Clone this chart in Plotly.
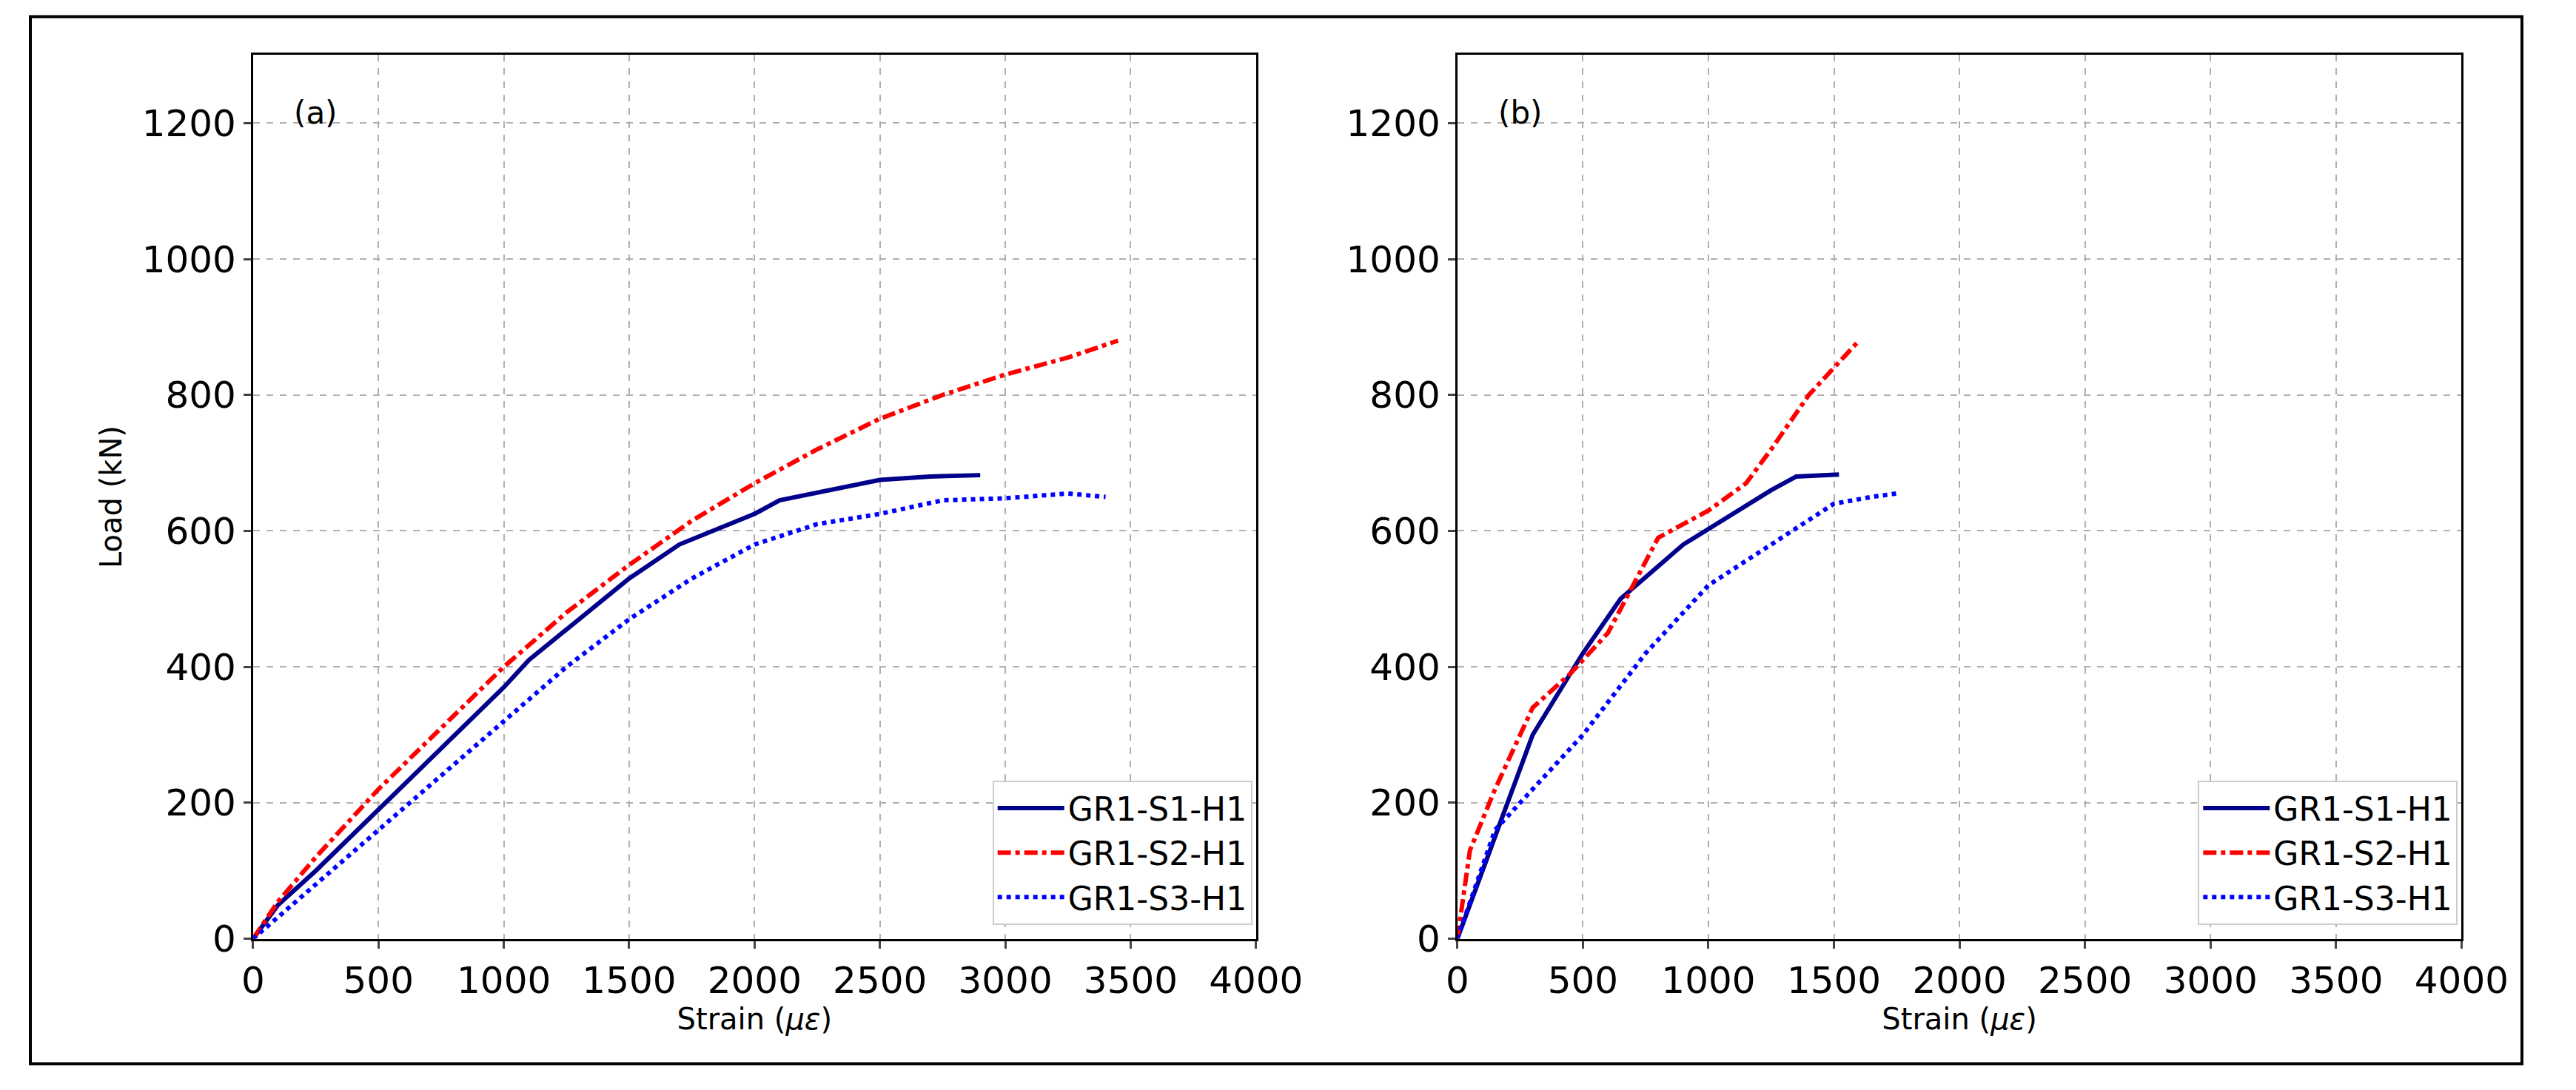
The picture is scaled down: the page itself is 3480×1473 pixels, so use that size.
import plotly.graph_objects as go

names = ["GR1-S1-H1", "GR1-S2-H1", "GR1-S3-H1"]
colors = ["#00008B", "#FF0000", "#0000FF"]
dashes = ["solid", "dashdot", "dot"]

a_s1_x = [0,100,250,500,750,1000,1100,1400,1500,1700,2000,2100,2500,2700,2900]
a_s1_y = [0,50,100,190,280,370,410,500,530,580,625,645,675,680,682]
a_s2_x = [0,100,250,500,750,1000,1250,1500,1750,2000,2250,2500,2750,3000,3250,3450]
a_s2_y = [0,55,120,220,310,400,480,550,615,670,720,765,800,830,855,880]
a_s3_x = [0,250,500,750,1000,1250,1500,1750,2000,2250,2500,2750,3000,3250,3400]
a_s3_y = [0,80,160,240,320,400,470,530,580,610,625,645,648,655,650]

b_s1_x = [0,100,200,300,500,650,900,1100,1250,1350,1450,1520]
b_s1_y = [0,100,200,300,420,500,580,625,660,680,682,683]
b_s2_x = [0,50,150,300,450,600,700,800,1000,1150,1250,1400,1550,1600]
b_s2_y = [0,130,220,340,390,450,520,590,630,670,720,800,860,880]
b_s3_x = [0,150,300,500,750,1000,1250,1500,1650,1750]
b_s3_y = [0,160,220,300,420,520,580,640,650,655]

fig = go.Figure()
A = [(a_s1_x,a_s1_y),(a_s2_x,a_s2_y),(a_s3_x,a_s3_y)]
B = [(b_s1_x,b_s1_y),(b_s2_x,b_s2_y),(b_s3_x,b_s3_y)]
for i,(x,y) in enumerate(A):
    fig.add_trace(go.Scatter(x=x,y=y,mode="lines",name=names[i],xaxis="x",yaxis="y",
        line=dict(color=colors[i],dash=dashes[i],width=6),legend="legend"))
for i,(x,y) in enumerate(B):
    fig.add_trace(go.Scatter(x=x,y=y,mode="lines",name=names[i],xaxis="x2",yaxis="y2",
        line=dict(color=colors[i],dash=dashes[i],width=6),legend="legend2"))

ax = dict(range=[0,4000],tickvals=[0,500,1000,1500,2000,2500,3000,3500,4000],
          showgrid=True,gridcolor="#b0b0b0",griddash="dash",gridwidth=2,
          showline=True,linecolor="black",linewidth=3,mirror=True,ticks="outside",
          ticklen=10,tickwidth=3,tickfont=dict(size=50,color="black"),zeroline=False,
          title=dict(text="Strain (<i>με</i>)",font=dict(size=40,color="black"),standoff=10))
ay = dict(range=[0,1300],tickvals=[0,200,400,600,800,1000,1200],
          showgrid=True,gridcolor="#b0b0b0",griddash="dash",gridwidth=2,
          showline=True,linecolor="black",linewidth=3,mirror=True,ticks="outside",
          ticklen=10,tickwidth=3,tickfont=dict(size=50,color="black"),zeroline=False)
leg = dict(font=dict(size=44,color="black"),bgcolor="white",bordercolor="#cccccc",borderwidth=2,
           xanchor="right",yanchor="bottom",tracegroupgap=0,itemwidth=90)
fig.update_layout(
    width=3480,height=1473,plot_bgcolor="white",paper_bgcolor="white",
    margin=dict(l=0,r=0,t=0,b=0),font=dict(family="DejaVu Sans"),
    xaxis=dict(ax,domain=[0.0935,0.492],anchor="y"),
    yaxis=dict(ay,domain=[0.127,0.954],anchor="x",
               title=dict(text="Load (kN)",font=dict(size=40,color="black"),standoff=15)),
    xaxis2=dict(ax,domain=[0.572,0.971],anchor="y2"),
    yaxis2=dict(ay,domain=[0.127,0.954],anchor="x2"),
    legend=dict(leg,x=0.4905,y=0.14),
    legend2=dict(leg,x=0.9695,y=0.14),
    shapes=[dict(type="rect",xref="paper",yref="paper",x0=0.005,x1=0.995,y0=0.01,y1=0.99,
                 line=dict(color="black",width=4))],
    annotations=[dict(text="(a)",xref="x",yref="y",x=250,y=1215,showarrow=False,font=dict(size=42,color="black")),
                 dict(text="(b)",xref="x2",yref="y2",x=250,y=1215,showarrow=False,font=dict(size=42,color="black"))],
)
fig.write_html("out.html")
